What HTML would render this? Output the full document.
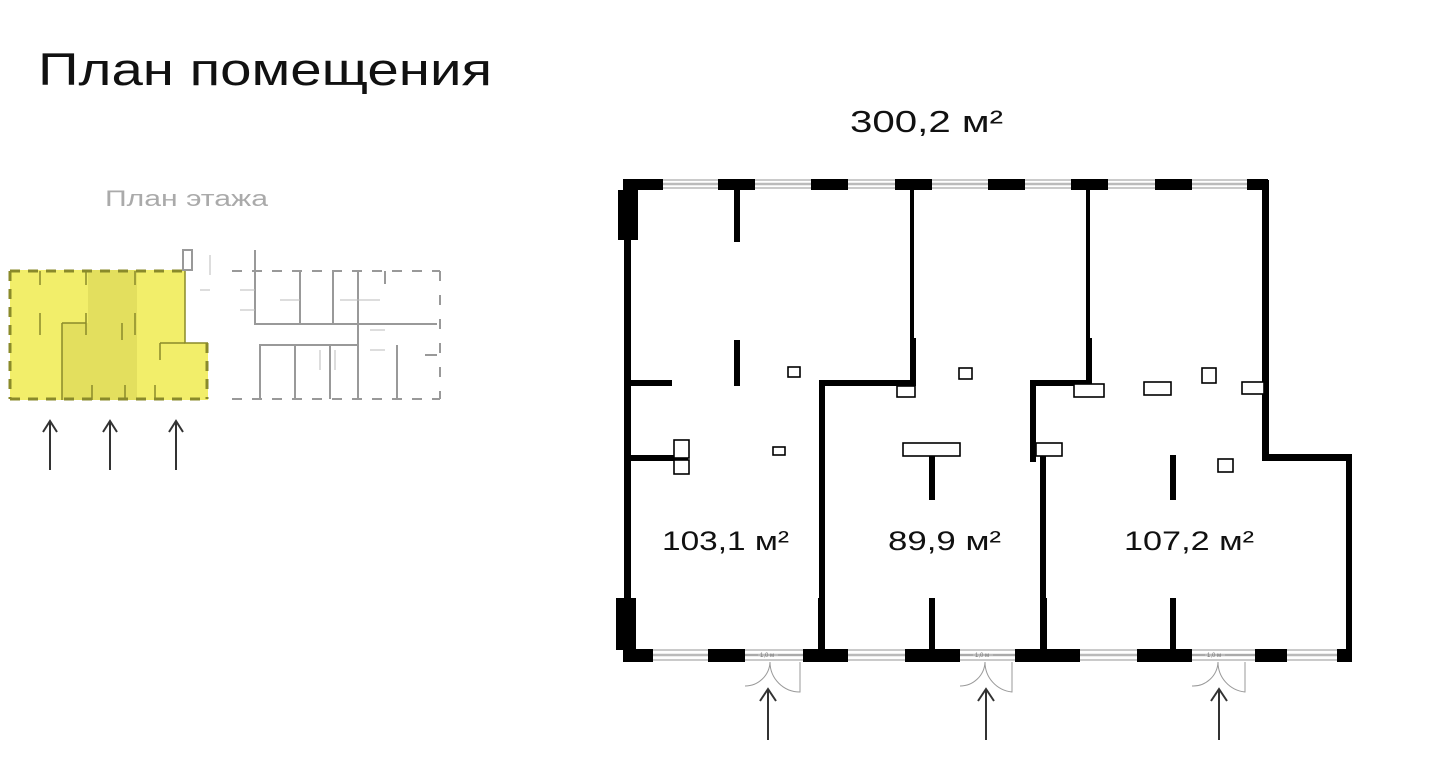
<!DOCTYPE html>
<html><head><meta charset="utf-8"><style>
html,body{margin:0;padding:0;background:#fff;}
svg{display:block;}
text{font-family:"Liberation Sans",sans-serif;}
</style></head><body>
<svg width="1438" height="767" viewBox="0 0 1438 767" xmlns="http://www.w3.org/2000/svg">
<text x="38" y="85" font-size="45" fill="#111" textLength="454" lengthAdjust="spacingAndGlyphs">План помещения</text>
<text x="850" y="132" font-size="31" fill="#111" textLength="153" lengthAdjust="spacingAndGlyphs">300,2 м²</text>
<text x="105" y="206" font-size="22" fill="#aaa" textLength="163" lengthAdjust="spacingAndGlyphs">План этажа</text>

<!-- small floor plan -->
<g>
<path d="M10 270 H185 V343 H208 V400 H10 Z" fill="#f2ee6a"/>
<rect x="88" y="270" width="49" height="130" fill="#ddd85a" opacity="0.7"/>
<rect x="62" y="323" width="26" height="77" fill="#ddd85a" opacity="0.7"/>
<g stroke="#8a8a2a" stroke-width="3" fill="none" stroke-dasharray="10 8">
<path d="M10 271 H185"/><path d="M10 399 H208"/><path d="M10 271 V399"/><path d="M207 343 V399"/>
</g>
<g stroke="#8a8a2a" stroke-width="1.5" fill="none">
<path d="M185 270 V343 H208"/>
<path d="M40 271 V285 M86 271 V285 M135 271 V285 M40 313 V335 M86 313 V335 M135 313 V335 M62 323 H86 M62 323 V400 M122 323 V340 M160 343 H185 M160 343 V360 M62 385 V400 M92 385 V400 M125 385 V400 M155 385 V400"/>
</g>
<g stroke="#999" stroke-width="2" fill="none">
<path d="M183 250 H192 V270 H183 Z"/>
<path d="M232 271 H440" stroke-dasharray="10 10"/>
<path d="M232 399 H440" stroke-dasharray="10 10"/>
<path d="M440 271 V399" stroke-dasharray="10 14"/>
<path d="M255 250 V324 H437 M300 271 V324 M333 271 V324 M358 271 V345 H260 V399 M295 345 V399 M330 345 V399 M358 345 V399 M385 271 V284 M425 355 H437 M397 345 V399"/>
</g>
<g stroke="#bbb" stroke-width="1" fill="none">
<path d="M210 255 V275 M200 290 H210 M240 290 H255 M240 310 H255 M280 300 H300 M340 300 H358 M358 300 H380 M370 330 H385 M370 350 H385 M320 350 V370 M335 350 V370"/>
</g>
</g>
<!-- left arrows -->
<g stroke="#333" stroke-width="2" fill="none">
<path d="M50 470 V422 M43 432 L50 421 L57 432"/>
<path d="M110 470 V422 M103 432 L110 421 L117 432"/>
<path d="M176 470 V422 M169 432 L176 421 L183 432"/>
</g>

<!-- main plan -->
<!-- windows top -->
<g stroke="#aaa" stroke-width="1.2">
<path d="M623 180 H1268 M623 188 H1268"/>
<path d="M623 650 H1350 M623 660 H1350"/>
</g>
<g stroke="#bbb" stroke-width="2.5"><path d="M623 184 H1268 M650 655 H1350"/></g>
<g fill="#000">
<!-- top solid segments -->
<rect x="623" y="179" width="40" height="11"/>
<rect x="718" y="179" width="37" height="11"/>
<rect x="811" y="179" width="37" height="11"/>
<rect x="895" y="179" width="37" height="11"/>
<rect x="988" y="179" width="37" height="11"/>
<rect x="1071" y="179" width="37" height="11"/>
<rect x="1155" y="179" width="37" height="11"/>
<rect x="1247" y="179" width="21" height="11"/>
<!-- bottom solid segments -->
<rect x="623" y="649" width="30" height="13"/>
<rect x="708" y="649" width="37" height="13"/>
<rect x="803" y="649" width="45" height="13"/>
<rect x="905" y="649" width="55" height="13"/>
<rect x="1015" y="649" width="65" height="13"/>
<rect x="1137" y="649" width="55" height="13"/>
<rect x="1255" y="649" width="32" height="13"/>
<rect x="1337" y="649" width="15" height="13"/>
<!-- left wall -->
<rect x="624" y="180" width="7" height="480"/>
<rect x="618" y="190" width="20" height="50"/>
<rect x="616" y="598" width="20" height="52"/>
<!-- right walls -->
<rect x="1262" y="180" width="7" height="280"/>
<rect x="1262" y="454" width="90" height="7"/>
<rect x="1346" y="454" width="6" height="208"/>
<!-- interior -->
<rect x="734" y="188" width="6" height="54"/>
<rect x="734" y="340" width="6" height="46"/>
<rect x="910" y="188" width="4" height="150"/>
<rect x="910" y="338" width="6" height="48"/>
<rect x="820" y="380" width="96" height="6"/>
<rect x="819" y="380" width="6" height="220"/>
<rect x="818" y="598" width="7" height="52"/>
<rect x="628" y="380" width="44" height="6"/>
<rect x="628" y="455" width="60" height="6"/>
<rect x="929" y="455" width="6" height="45"/>
<rect x="929" y="598" width="6" height="52"/>
<rect x="1086" y="188" width="4" height="150"/>
<rect x="1086" y="338" width="6" height="48"/>
<rect x="1030" y="380" width="62" height="6"/>
<rect x="1030" y="380" width="6" height="82"/>
<rect x="1040" y="455" width="6" height="195"/>
<rect x="1040" y="598" width="7" height="52"/>
<rect x="1170" y="455" width="6" height="45"/>
<rect x="1170" y="598" width="6" height="52"/>
</g>
<!-- boxes -->
<g fill="#fff" stroke="#000" stroke-width="1.6">
<rect x="788" y="367" width="12" height="10"/>
<rect x="959" y="368" width="13" height="11"/>
<rect x="897" y="386" width="18" height="11"/>
<rect x="773" y="447" width="12" height="8"/>
<rect x="674" y="440" width="15" height="18"/>
<rect x="674" y="460" width="15" height="14"/>
<rect x="903" y="443" width="57" height="13"/>
<rect x="1074" y="384" width="30" height="13"/>
<rect x="1144" y="382" width="27" height="13"/>
<rect x="1202" y="368" width="14" height="15"/>
<rect x="1242" y="382" width="22" height="12"/>
<rect x="1036" y="443" width="26" height="13"/>
<rect x="1218" y="459" width="15" height="13"/>
</g>
<!-- doors -->
<g stroke="#999" stroke-width="1" fill="none">
<path d="M745 655 H758 M778 655 H803"/>
<path d="M770 662 A25 25 0 0 1 745 686 M770 662 A30 30 0 0 0 800 692 V662"/>
<path d="M960 655 H973 M993 655 H1015"/>
<path d="M985 662 A25 25 0 0 1 960 686 M985 662 A30 30 0 0 0 1012 692 V662"/>
<path d="M1192 655 H1205 M1225 655 H1255"/>
<path d="M1218 662 A25 25 0 0 1 1192 686 M1218 662 A30 30 0 0 0 1245 692 V662"/>
</g>
<g font-size="6" fill="#777">
<text x="760" y="657">1,0 м</text>
<text x="975" y="657">1,0 м</text>
<text x="1207" y="657">1,0 м</text>
</g>
<!-- bottom arrows -->
<g stroke="#333" stroke-width="2" fill="none">
<path d="M768 740 V690 M760 701 L768 689 L776 701"/>
<path d="M986 740 V690 M978 701 L986 689 L994 701"/>
<path d="M1219 740 V690 M1211 701 L1219 689 L1227 701"/>
</g>
<g font-size="27" fill="#111">
<text x="662" y="550" textLength="127" lengthAdjust="spacingAndGlyphs">103,1 м²</text>
<text x="888" y="550" textLength="113" lengthAdjust="spacingAndGlyphs">89,9 м²</text>
<text x="1124" y="550" textLength="130" lengthAdjust="spacingAndGlyphs">107,2 м²</text>
</g>
</svg>
</body></html>
